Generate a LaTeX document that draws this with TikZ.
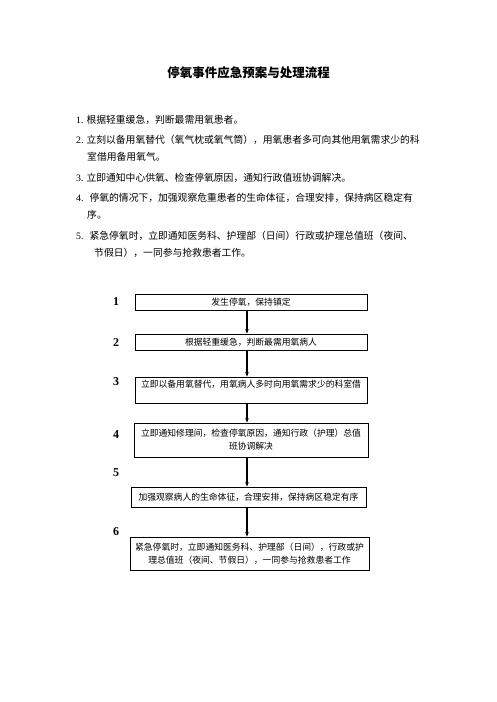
\documentclass[tikz,border=0pt]{standalone}
\usepackage{fontspec}
\setmainfont{Noto Sans CJK SC}
\newfontfamily\numfont{Liberation Serif}
\usepackage{tikz}
\usetikzlibrary{arrows.meta, positioning, calc}

\tikzset{
  stepbox/.style={draw, line width=0.9pt, inner sep=1pt, align=center,
    font=\fontsize{8.8}{13}\selectfont},
  numlabel/.style={font=\numfont\bfseries\fontsize{12}{12}\selectfont},
  listline/.style={anchor=west, inner sep=0pt, font=\fontsize{9.8}{12}\selectfont},
  flowarrow/.style={-{Stealth[length=4.5pt,width=3.5pt]}, line width=1.2pt}
}

\begin{document}
\begin{tikzpicture}[x=1pt, y=-1pt]
			\useasboundingbox (0,0) rectangle (496,702);
			
			% Title
			\node[font=\bfseries\fontsize{12.5}{14}\selectfont] (title) at (248.5,73) {停氧事件应急预案与处理流程};
			
			% Numbered list
			\node[listline] (l1) at (76,120) {{\numfont 1.}\hspace{3pt}根据轻重缓急，判断最需用氧患者。};
			\node[listline] (l2) at (76,140) {{\numfont 2.}\hspace{3pt}立刻以备用氧替代（氧气枕或氧气筒），用氧患者多可向其他用氧需求少的科};
			\node[listline] (l2b) at (87,157) {室借用备用氧气。};
			\node[listline] (l3) at (76,178) {{\numfont 3.}\hspace{3pt}立即通知中心供氧、检查停氧原因，通知行政值班协调解决。};
			\node[listline] (l4) at (76,198) {{\numfont 4.}\hspace{6pt}停氧的情况下，加强观察危重患者的生命体征，合理安排，保持病区稳定有};
			\node[listline] (l4b) at (87,215) {序。};
			\node[listline] (l5) at (76,236) {{\numfont 5.}\hspace{6pt}紧急停氧时，立即通知医务科、护理部（日间）行政或护理总值班（夜间、};
			\node[listline] (l5b) at (94,253) {节假日），一同参与抢救患者工作。};
			
			% Flow boxes
			\node[stepbox, minimum width=232pt, minimum height=16pt] (b1) at (251,302) {发生停氧，保持镇定};
			\node[stepbox, minimum width=232pt, minimum height=16pt] (b2) at (251,342) {根据轻重缓急，判断最需用氧病人};
			\node[stepbox, minimum width=232pt, minimum height=26pt] (b3) at (251,390) {立即以备用氧替代，用氧病人多时向用氧需求少的科室借\\ ~};
			\node[stepbox, minimum width=234pt, minimum height=34pt] (b4) at (251,440) {立即通知修理间，检查停氧原因，通知行政（护理）总值\\班协调解决};
			\node[stepbox, minimum width=235pt, minimum height=20pt] (b5) at (248.5,497) {加强观察病人的生命体征，合理安排，保持病区稳定有序};
			\node[stepbox, minimum width=239pt, minimum height=33pt] (b6) at (249.5,553.5) {紧急停氧时，立即通知医务科、护理部（日间），行政或护\\理总值班（夜间、节假日），一同参与抢救患者工作};
			
			% Step numbers
			\node[numlabel] (n1) at (116,302) {1};
			\node[numlabel] (n2) at (116,343) {2};
			\node[numlabel] (n3) at (116,382) {3};
			\node[numlabel] (n4) at (116,435) {4};
			\node[numlabel] (n5) at (116,473) {5};
			\node[numlabel] (n6) at (116,532) {6};
			
			% Arrows
			\coordinate (ax) at (247,0);
			\draw[flowarrow] (b1.south -| ax) -- (b2.north -| ax);
			\draw[flowarrow] (b2.south -| ax) -- (b3.north -| ax);
			\draw[flowarrow] (b3.south -| ax) -- (b4.north -| ax);
			\draw[flowarrow] (b4.south -| ax) -- (b5.north -| ax);
			\draw[flowarrow] (b5.south -| ax) -- (b6.north -| ax);
			
\end{tikzpicture}
\end{document}
